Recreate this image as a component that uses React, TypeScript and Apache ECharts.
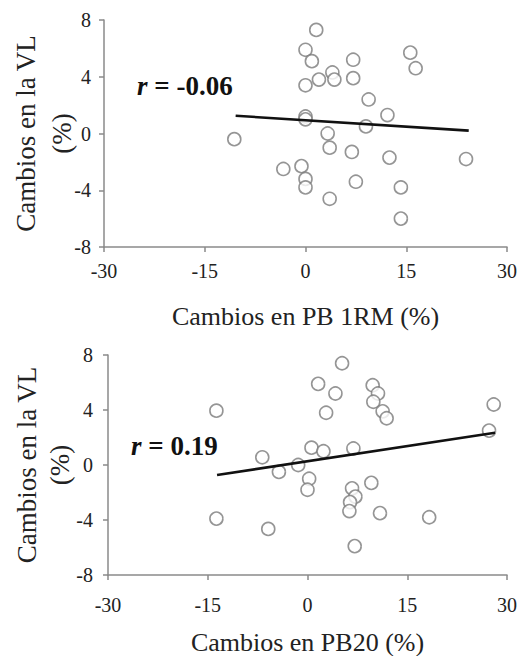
import React, { useEffect, useRef } from "react";
import * as echarts from "echarts";

// Panel A: changes in bench press 1RM (%) vs changes in VL (%)
const pb1rmX = [1.6, 0, 0.95, 7.1, 15.6, 16.4, 0, 2.0, 4.0, 4.3, 7.1, 9.4, 12.2, 0, 0, 9.0, -10.6, 3.3, 3.6, 6.9, 12.5, 23.9, -0.6, -3.3, 0, 0, 7.5, 3.6, 14.2, 14.2];
const pb1rmY = [7.3, 5.9, 5.1, 5.2, 5.7, 4.6, 3.4, 3.8, 4.3, 3.8, 3.9, 2.4, 1.3, 1.2, 1.0, 0.5, -0.4, 0.0, -1.0, -1.3, -1.7, -1.8, -2.3, -2.5, -3.2, -3.8, -3.4, -4.6, -3.8, -6.0];
const pb1rmTrendX = [-10.4, 24.3];
const pb1rmTrendY = [1.25, 0.2];
const pb1rmR = "-0.06";

// Panel B: changes in PB20 (%) vs changes in VL (%)
const pb20X = [-13.7, -13.7, -6.8, -5.9, -4.3, -1.4, 0.25, 0, 0.6, 2.4, 1.6, 2.8, 4.2, 5.2, 6.9, 6.7, 7.2, 6.4, 6.3, 7.1, 9.6, 9.8, 10.6, 9.9, 11.3, 11.9, 10.9, 18.3, 28.0, 27.3];
const pb20Y = [3.95, -3.9, 0.56, -4.65, -0.5, 0.0, -1.0, -1.8, 1.26, 1.0, 5.9, 3.8, 5.2, 7.4, 1.2, -1.7, -2.3, -2.7, -3.35, -5.9, -1.3, 5.8, 5.2, 4.6, 3.9, 3.4, -3.5, -3.8, 4.4, 2.5];
const pb20TrendX = [-13.6, 28.2];
const pb20TrendY = [-0.73, 2.35];
const pb20R = "0.19";

// Axis ticks
const xTicks = { min: -30, max: 30, interval: 15 };
const yTicks = { min: -8, max: 8, interval: 4 };

const yTitle = "Cambios en la VL\n(%)";
const xTitleTop = "Cambios en PB 1RM (%)";
const xTitleBottom = "Cambios en PB20 (%)";

const FONT = "Liberation Serif";
const AXIS_GREY = "#8a8a8a";

function pairs(xs: number[], ys: number[]) {
  return xs.map((x, i) => [x, ys[i]]);
}

export default function App() {
  const ref = useRef<HTMLDivElement>(null);

  useEffect(() => {
    if (!ref.current) return;
    const chart = echarts.init(ref.current, null, { renderer: "svg" });

    const xAxisBase = (name: string, gridIndex: number, labelMargin: number, nameGap: number) => ({
      type: "value",
      gridIndex,
      min: xTicks.min,
      max: xTicks.max,
      interval: xTicks.interval,
      name,
      nameLocation: "middle",
      nameGap,
      nameMoveOverlap: false,
      nameTextStyle: { fontFamily: FONT, fontSize: 26, color: "#222" },
      axisLine: { show: true, onZero: false, lineStyle: { color: AXIS_GREY, width: 1.5 } },
      axisTick: { show: true, length: 5, lineStyle: { color: AXIS_GREY, width: 1.5 } },
      axisLabel: { fontFamily: FONT, fontSize: 20, color: "#222", margin: labelMargin },
      splitLine: { show: false },
    });

    const yAxisBase = (gridIndex: number, nameGap: number, labelMargin: number, lineHeight: number) => ({
      type: "value",
      gridIndex,
      min: yTicks.min,
      max: yTicks.max,
      interval: yTicks.interval,
      name: yTitle,
      nameLocation: "middle",
      nameGap,
      nameMoveOverlap: false,
      nameTextStyle: { fontFamily: FONT, fontSize: 27, lineHeight, color: "#222" },
      axisLine: { show: true, onZero: false, lineStyle: { color: AXIS_GREY, width: 1.5 } },
      axisTick: { show: true, length: 5, lineStyle: { color: AXIS_GREY, width: 1.5 } },
      axisLabel: { fontFamily: FONT, fontSize: 20, color: "#222", margin: labelMargin },
      splitLine: { show: false },
    });

    const scatterStyle = {
      type: "scatter",
      symbol: "circle",
      symbolSize: 13,
      itemStyle: { color: "#ffffff", borderColor: "#7a7a7a", borderWidth: 1.6 },
      z: 3,
    };

    const trendStyle = {
      type: "line",
      symbol: "none",
      lineStyle: { color: "#111", width: 2.6 },
      z: 4,
    };

    const rLabel = (value: string, left: number, top: number) => ({
      type: "text",
      left,
      top,
      style: {
        text: `{i|r}{b| = ${value}}`,
        rich: {
          i: { fontFamily: FONT, fontSize: 27, fontWeight: "bold", fontStyle: "italic", fill: "#111" },
          b: { fontFamily: FONT, fontSize: 27, fontWeight: "bold", fill: "#111" },
        },
      },
    });

    chart.setOption({
      animation: false,
      backgroundColor: "#ffffff",
      grid: [
        { left: 104, right: 16, top: 20, height: 227, outerBoundsMode: "none" },
        { left: 108, right: 16, top: 355, height: 220, outerBoundsMode: "none" },
      ],
      xAxis: [xAxisBase(xTitleTop, 0, 14, 56), xAxisBase(xTitleBottom, 1, 20, 54)],
      yAxis: [yAxisBase(0, 24, 13, 36), yAxisBase(1, 32, 15, 33)],
      series: [
        { ...scatterStyle, xAxisIndex: 0, yAxisIndex: 0, data: pairs(pb1rmX, pb1rmY) },
        { ...trendStyle, xAxisIndex: 0, yAxisIndex: 0, data: pairs(pb1rmTrendX, pb1rmTrendY) },
        { ...scatterStyle, xAxisIndex: 1, yAxisIndex: 1, data: pairs(pb20X, pb20Y) },
        { ...trendStyle, xAxisIndex: 1, yAxisIndex: 1, data: pairs(pb20TrendX, pb20TrendY) },
      ],
      graphic: [rLabel(pb1rmR, 137, 72), rLabel(pb20R, 131, 432)],
    });

    return () => chart.dispose();
  }, []);

  return (
    <div
      ref={ref}
      style={{ position: "fixed", left: 0, top: 0, width: 523, height: 656, background: "#fff" }}
    />
  );
}
